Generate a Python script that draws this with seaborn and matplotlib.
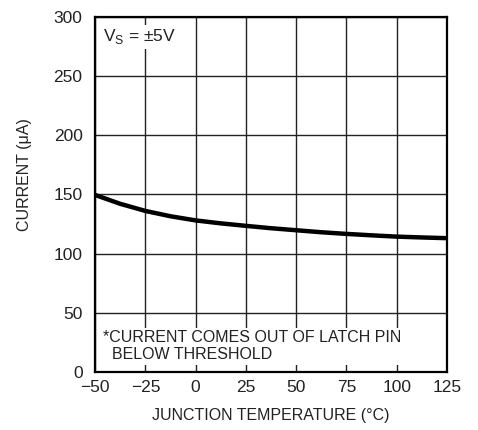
import matplotlib
matplotlib.use("Agg")
import matplotlib.pyplot as plt
import seaborn as sns
import pandas as pd

# data
temp_c = [-50, -37.5, -25, -12.5, 0, 12.5, 25, 37.5, 50, 62.5, 75, 87.5, 100, 112.5, 125]
current_ua = [149.5, 142.0, 136.0, 131.5, 128.0, 125.5, 123.4, 121.4, 119.7, 118.0, 116.6, 115.4, 114.3, 113.6, 113.0]

x_ticks = [-50, -25, 0, 25, 50, 75, 100, 125]
x_tick_labels = ["\u221250", "\u221225", "0", "25", "50", "75", "100", "125"]
y_ticks = [0, 50, 100, 150, 200, 250, 300]

df = pd.DataFrame({"temp": temp_c, "current": current_ua})

sns.set_theme(style="white")
plt.rcParams["font.family"] = ["Liberation Sans", "DejaVu Sans"]

fig = plt.figure(figsize=(4.78, 4.30), dpi=100)
ax = fig.add_axes([0.199, 0.135, 0.736, 0.826])

sns.lineplot(data=df, x="temp", y="current", color="black", linewidth=3.2, ax=ax)

ax.set_xlim(-50, 125)
ax.set_ylim(0, 300)
ax.set_xticks(x_ticks)
ax.set_xticklabels(x_tick_labels)
ax.set_yticks(y_ticks)
ax.tick_params(axis="x", length=0, labelsize=12.5, colors="#222222", pad=6)
ax.tick_params(axis="y", length=0, labelsize=12.5, colors="#222222", pad=9)
ax.grid(True, color="#222222", linewidth=1.0)
for sp in ax.spines.values():
    sp.set_color("black")
    sp.set_linewidth(1.6)

ax.set_xlabel("JUNCTION TEMPERATURE (\u00b0C)", fontsize=11.5, color="#222222", labelpad=9)
ax.set_ylabel("CURRENT (\u03bcA)", fontsize=11.5, color="#222222")
ax.yaxis.set_label_coords(-0.18, 0.555)

ax.text(-46, 291, "V$_\\mathregular{S}$ = \u00b15V", fontsize=12.5, color="#222222",
        va="top", ha="left", bbox=dict(facecolor="white", edgecolor="none", pad=1.5))
ax.text(-46, 8, "*CURRENT COMES OUT OF LATCH PIN\n  BELOW THRESHOLD", fontsize=11.5,
        color="#222222", va="bottom", ha="left", linespacing=1.2,
        bbox=dict(facecolor="white", edgecolor="none", pad=1.5))

fig.savefig("out.png", dpi=100)
